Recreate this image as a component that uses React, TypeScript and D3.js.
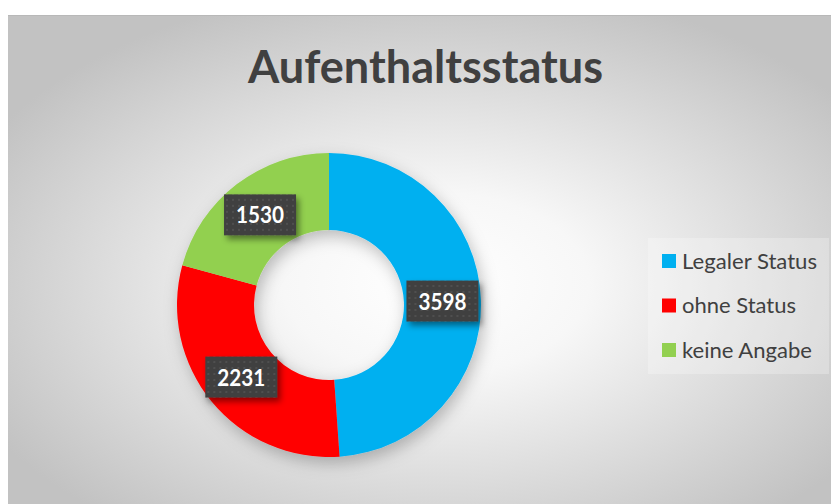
import React from "react";
import * as d3 from "d3";

const categories = ["Legaler Status", "ohne Status", "keine Angabe"];
const values = [3598, 2231, 1530];
const colors = ["#00B0F0", "#FF0000", "#92D050"];
const legendWidths = [135, 114, 130];
const title = "Aufenthaltsstatus";

const W = 831;
const H = 504;

export default function App() {
  const cx = 329;
  const cy = 305;
  const rOuter = 152;
  const rInner = 75;

  const pie = d3.pie<number>().sort(null).value((d) => d)(values);
  const arc = d3.arc<d3.PieArcDatum<number>>().innerRadius(rInner).outerRadius(rOuter);
  const labelArc = d3
    .arc<d3.PieArcDatum<number>>()
    .innerRadius((rInner + rOuter) / 2)
    .outerRadius((rInner + rOuter) / 2);

  const legendY = d3.scalePoint<string>().domain(categories).range([261, 350]);

  return (
    <div style={{ position: "absolute", left: 0, top: 0 }}>
      <svg width={W} height={H} style={{ display: "block" }}>
        <defs>
          <radialGradient id="bg" cx="0.52" cy="0.55" r="0.62" gradientUnits="objectBoundingBox">
            <stop offset="0" stopColor="#ffffff" />
            <stop offset="0.3" stopColor="#f7f7f7" />
            <stop offset="1" stopColor="#c2c2c2" />
          </radialGradient>
          <filter id="donutShadow" x="-30%" y="-30%" width="160%" height="160%">
            <feDropShadow dx="3" dy="6" stdDeviation="8" floodColor="#000" floodOpacity="0.25" />
          </filter>
          <filter id="boxShadow" x="-30%" y="-30%" width="160%" height="170%">
            <feDropShadow dx="3" dy="4" stdDeviation="3" floodColor="#000" floodOpacity="0.45" />
          </filter>
          <pattern id="dots" width="6" height="6" patternUnits="userSpaceOnUse">
            <rect width="6" height="6" fill="#404040" />
            <rect x="2" y="2" width="2" height="2" fill="#505050" />
          </pattern>
        </defs>
        <rect x={0} y={0} width={W} height={H} fill="#ffffff" />
        <rect x={8} y={15} width={W - 8} height={H - 15} fill="url(#bg)" />
        <line x1={8} x2={W} y1={15.5} y2={15.5} stroke="#b8b8b8" strokeWidth={1} />

        <text
          x={425.5}
          y={82.5}
          textAnchor="middle"
          fontFamily="Lato, 'Open Sans', sans-serif"
          fontWeight={700}
          fontSize={45}
          fill="#404040"
          textLength={355}
          lengthAdjust="spacingAndGlyphs"
        >
          {title}
        </text>

        <g transform={`translate(${cx},${cy})`} filter="url(#donutShadow)">
          {pie.map((p, i) => (
            <path key={i} d={arc(p) || ""} fill={colors[i]} />
          ))}
        </g>

        <g transform={`translate(${cx},${cy})`}>
          {pie.map((p, i) => {
            const [lx, ly] = labelArc.centroid(p);
            const bw = 72;
            const bh = 41;
            return (
              <g key={i} transform={`translate(${lx},${ly})`}>
                <rect x={-bw / 2} y={-bh / 2} width={bw} height={bh} fill="url(#dots)" filter="url(#boxShadow)" />
                <text
                  x={0}
                  y={8.5}
                  textAnchor="middle"
                  fontFamily="Lato, 'Open Sans', sans-serif"
                  fontWeight={700}
                  fontSize={23}
                  fill="#ffffff"
                  textLength={48}
                  lengthAdjust="spacingAndGlyphs"
                >
                  {values[i]}
                </text>
              </g>
            );
          })}
        </g>

        <rect x={648} y={238} width={181} height={136} fill="#ffffff" fillOpacity={0.25} />
        {categories.map((c, i) => {
          const y = legendY(c) as number;
          return (
            <g key={c}>
              <rect x={662} y={y - 7} width={14} height={14} fill={colors[i]} />
              <text
                x={682}
                y={y + 7.5}
                fontFamily="Lato, 'Open Sans', sans-serif"
                fontSize={21.5}
                fill="#404040"
                textLength={legendWidths[i]}
                lengthAdjust="spacingAndGlyphs"
              >
                {c}
              </text>
            </g>
          );
        })}
      </svg>
    </div>
  );
}
